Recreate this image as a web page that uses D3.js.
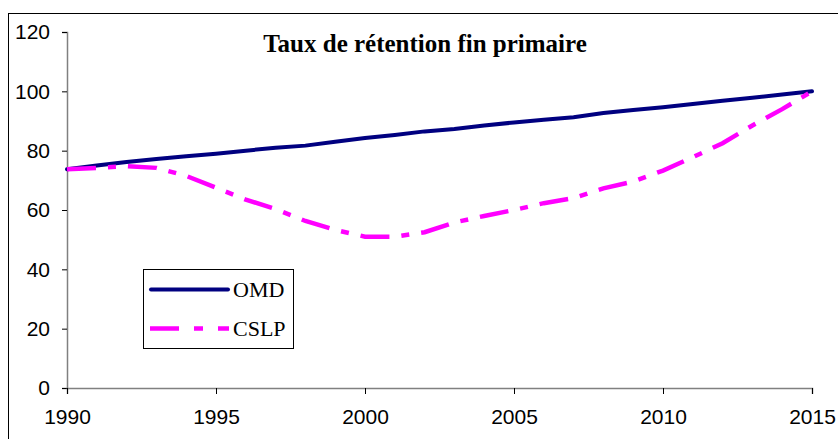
<!DOCTYPE html>
<html><head><meta charset="utf-8">
<script src="https://cdn.jsdelivr.net/npm/d3@7"></script>
<style>body{margin:0;background:#fff}svg{display:block}</style>
</head><body>
<svg id="c" width="838" height="439"></svg>
<script>
const years = d3.range(1990, 2016);
const omd  = [73.7,75,76.2,77.2,78.1,79,80,81,81.7,83,84.3,85.3,86.5,87.3,88.5,89.5,90.4,91.3,92.7,93.7,94.6,95.7,96.8,97.8,98.9,100];
const cslp = [73.7,74.2,74.8,74.2,71.5,67.5,63.5,60.3,56.3,53.3,51,51,52.5,55.8,58,60,62.3,64,67.3,69.6,73.3,77.8,82.5,88.5,94,100];
const yTicks = [0,20,40,60,80,100,120];
const xTicks = [1990,1995,2000,2005,2010,2015];
const title = "Taux de rétention fin primaire";
const seriesNames = ["OMD","CSLP"];

const svg = d3.select("#c");
// frame
svg.append("rect").attr("x",8.5).attr("y",13.5).attr("width",840).attr("height",440)
  .attr("fill","none").attr("stroke","#000").attr("stroke-width",1);

const x = d3.scaleLinear().domain([1990,2015]).range([67,812]);
const y = d3.scaleLinear().domain([0,120]).range([388,32]);

const ya = svg.append("g").attr("transform","translate(67,0)")
  .call(d3.axisLeft(y).tickValues(yTicks).tickSize(5).tickPadding(12));
const xa = svg.append("g").attr("transform","translate(0,388)")
  .call(d3.axisBottom(x).tickValues(xTicks).tickFormat(d3.format("d")).tickSize(6).tickPadding(15));
[ya,xa].forEach(a=>{
  a.select(".domain").attr("stroke","#808080").attr("stroke-width",1.5);
  a.selectAll(".tick line").attr("stroke","#000");
  a.selectAll("text").attr("font-family","Liberation Sans, Arial, sans-serif").attr("font-size",21).attr("fill","#000");
});

const line = d3.line().x((d,i)=>x(years[i])).y(d=>y(d));
svg.append("path").datum(omd).attr("d",line).attr("fill","none")
  .attr("stroke","#000080").attr("stroke-width",4).attr("stroke-linecap","round");
svg.append("path").datum(cslp).attr("d",line).attr("fill","none")
  .attr("stroke","#FF00FF").attr("stroke-width",4.5).attr("stroke-dasharray","29,12,8,12");

svg.append("text").attr("x",425).attr("y",52).attr("text-anchor","middle")
  .attr("font-family","Liberation Serif, Times New Roman, serif").attr("font-weight","bold")
  .attr("font-size",25).text(title);

// legend
const lg = svg.append("g");
lg.append("rect").attr("x",143.5).attr("y",269.5).attr("width",150).attr("height",79)
  .attr("fill","#fff").attr("stroke","#000").attr("stroke-width",1);
lg.append("line").attr("x1",151).attr("x2",228).attr("y1",289.5).attr("y2",289.5)
  .attr("stroke","#000080").attr("stroke-width",4).attr("stroke-linecap","round");
lg.append("line").attr("x1",150).attr("x2",229).attr("y1",328.5).attr("y2",328.5)
  .attr("stroke","#FF00FF").attr("stroke-width",4.5).attr("stroke-dasharray","29,15,9,15");
lg.selectAll("text.l").data(seriesNames).enter().append("text")
  .attr("x",233).attr("y",(d,i)=>297+i*39)
  .attr("font-family","Liberation Serif, Times New Roman, serif").attr("font-size",22)
  .text(d=>d);
</script>
</body></html>
